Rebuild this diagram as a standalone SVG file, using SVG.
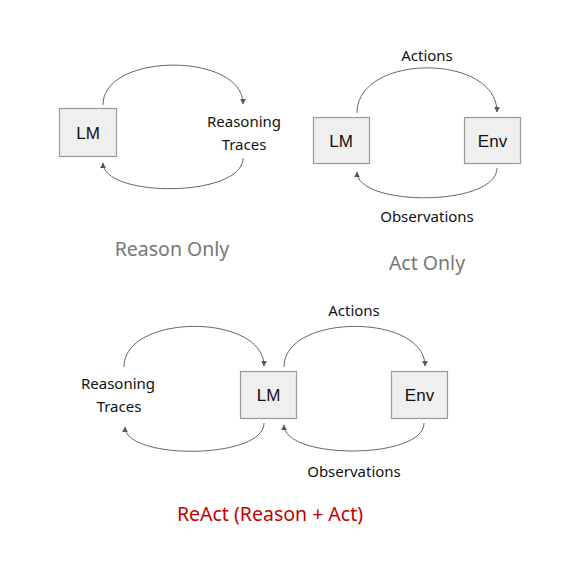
<svg xmlns="http://www.w3.org/2000/svg" width="564" height="573" viewBox="0 0 564 573">
<defs>
<marker id="arr" viewBox="0 0 10 10" refX="9" refY="5" markerWidth="6" markerHeight="6" markerUnits="userSpaceOnUse" orient="auto">
<path d="M0,0 L10,5 L0,10 z" fill="#555"/>
</marker>
<style>
.box{fill:#efefef;stroke:#9a9a9a;stroke-width:1.2}
.bl{font-family:"Liberation Sans",Arial,sans-serif;font-size:17px;fill:#111;text-anchor:middle}
.lb{font-family:"Noto Sans","Open Sans",sans-serif;font-size:15px;fill:#111;text-anchor:middle}
.ti{font-family:"Noto Sans","Open Sans",sans-serif;font-size:19.5px;fill:#777;text-anchor:middle}
.red{fill:#c40000}
.c{fill:none;stroke:#666;stroke-width:1;marker-end:url(#arr)}
</style>
</defs>
<rect width="564" height="573" fill="#fff"/>
<g id="connectors">
<path class="c" d="M103,105 C103,52 243,52 243,104"/>
<path class="c" d="M243,158 C243,198 103,198 103,163"/>
<path class="c" d="M357,113 C357,53 497,53 497,112"/>
<path class="c" d="M497,168 C497,207 357,207 357,172"/>
<path class="c" d="M124,367 C124,313 264,313 264,366"/>
<path class="c" d="M264,423 C264,460 125,460 125,427"/>
<path class="c" d="M284,367 C284,313 425,313 425,366"/>
<path class="c" d="M424,423 C424,460 284,460 284,425"/>
</g>
<g id="reason-lm"><rect class="box" x="59.5" y="108.5" width="57" height="48"/><text class="bl" x="88" y="139">LM</text></g>
<g id="reason-traces"><text class="lb" x="244" y="127">Reasoning</text><text class="lb" x="244" y="150">Traces</text></g>
<g id="reason-title"><text class="ti" x="172" y="256">Reason Only</text></g>
<g id="act-lm"><rect class="box" x="313.5" y="117.5" width="56" height="46"/><text class="bl" x="341" y="147">LM</text></g>
<g id="act-env"><rect class="box" x="464.5" y="117.5" width="56" height="46"/><text class="bl" x="492.5" y="147">Env</text></g>
<g id="act-labels"><text class="lb" x="427" y="61">Actions</text><text class="lb" x="427" y="222">Observations</text></g>
<g id="act-title"><text class="ti" x="427" y="270">Act Only</text></g>
<g id="react-lm"><rect class="box" x="240.5" y="371.5" width="56" height="47"/><text class="bl" x="268.5" y="401">LM</text></g>
<g id="react-env"><rect class="box" x="391.5" y="371.5" width="56" height="47"/><text class="bl" x="419.5" y="401">Env</text></g>
<g id="react-labels"><text class="lb" x="118" y="389">Reasoning</text><text class="lb" x="119" y="412">Traces</text><text class="lb" x="354" y="316">Actions</text><text class="lb" x="354" y="477">Observations</text></g>
<g id="react-title"><text class="ti red" x="270" y="521">ReAct (Reason + Act)</text></g>
</svg>
